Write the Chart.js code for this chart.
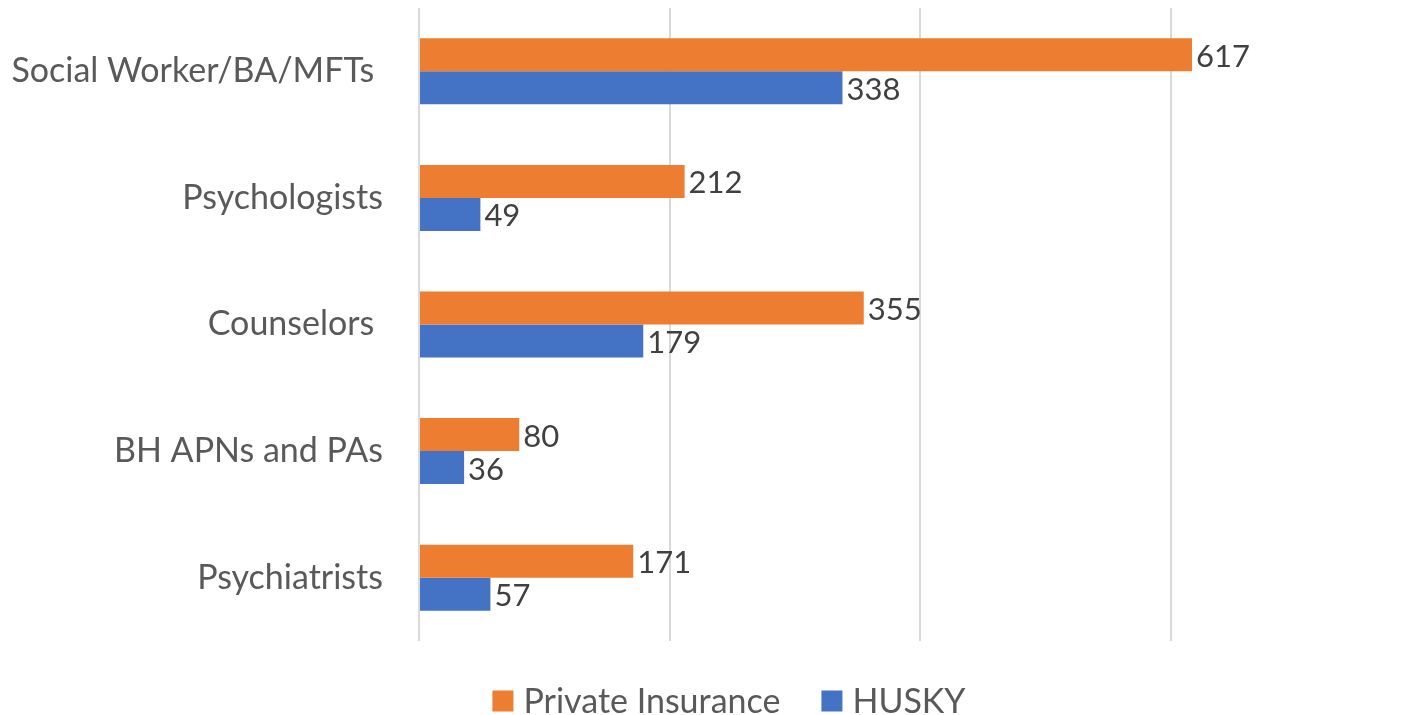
<!DOCTYPE html>
<html>
<head>
<meta charset="utf-8">
<script src="https://cdn.jsdelivr.net/npm/chart.js@4.4.1/dist/chart.umd.min.js"></script>
<style>
  html, body { margin: 0; padding: 0; background: #fff; overflow: hidden; }
  #wrap { width: 1410px; height: 715px; }
</style>
</head>
<body>
<div id="wrap"><canvas id="chart" width="1410" height="715"></canvas></div>
<script>
// Kategorier och värden
const categories = ['Social Worker/BA/MFTs ', 'Psychologists', 'Counselors ', 'BH APNs and PAs', 'Psychiatrists'];
const privateInsurance = [617, 212, 355, 80, 171];
const husky = [338, 49, 179, 36, 57];
const xTicks = [0, 200, 400, 600];

const FONT = 'Lato, "Open Sans", sans-serif';

// Värdeetiketter till höger om staplarna
const valueLabels = {
    id: 'valueLabels',
    afterDatasetsDraw(chart) {
        const ctx = chart.ctx;
        ctx.save();
        ctx.font = '31px ' + FONT;
        ctx.fillStyle = '#404040';
        ctx.textAlign = 'left';
        ctx.textBaseline = 'middle';
        chart.data.datasets.forEach((ds, i) => {
            chart.getDatasetMeta(i).data.forEach((bar, j) => {
                ctx.fillText(ds.data[j], bar.x + 4, bar.y + 2);
            });
        });
        ctx.restore();
    }
};

// Egen legend längst ner (Excel-stil)
const bottomLegend = {
    id: 'bottomLegend',
    afterDraw(chart) {
        const ctx = chart.ctx;
        const box = 21, textGap = 10, itemGap = 41, y = 701;
        ctx.save();
        ctx.font = '34px ' + FONT;
        ctx.textBaseline = 'middle';
        ctx.textAlign = 'left';
        const items = chart.data.datasets.map(ds => ({
            text: ds.label, color: ds.backgroundColor, w: ctx.measureText(ds.label).width
        }));
        let total = items.reduce((s, it) => s + box + textGap + it.w, 0) + itemGap * (items.length - 1);
        let x = 729 - total / 2;
        items.forEach(it => {
            ctx.fillStyle = it.color;
            ctx.fillRect(x, y - box / 2, box, box);
            ctx.fillStyle = '#595959';
            ctx.fillText(it.text, x + box + textGap, y + 1);
            x += box + textGap + it.w + itemGap;
        });
        ctx.restore();
    }
};

new Chart(document.getElementById('chart'), {
    type: 'bar',
    data: {
        labels: categories,
        datasets: [
            {
                label: 'Private Insurance',
                data: privateInsurance,
                backgroundColor: '#ED7D31',
                barPercentage: 1,
                categoryPercentage: 0.521
            },
            {
                label: 'HUSKY',
                data: husky,
                backgroundColor: '#4472C4',
                barPercentage: 1,
                categoryPercentage: 0.521
            }
        ]
    },
    options: {
        indexAxis: 'y',
        responsive: false,
        animation: false,
        layout: { padding: { left: 0, right: 5, top: 8, bottom: 74 } },
        scales: {
            x: {
                min: 0,
                max: 787,
                afterBuildTicks: (scale) => {
                    scale.ticks = xTicks.map(v => ({ value: v }));
                },
                afterFit: (scale) => { scale.height = 0; },
                ticks: { display: false },
                grid: { color: '#d9d9d9', lineWidth: 2, drawTicks: false },
                border: { display: false }
            },
            y: {
                afterFit: (scale) => {
                    scale.width = 419;
                    scale.paddingTop = 0;
                    scale.paddingBottom = 0;
                },
                grid: { display: false, drawTicks: false },
                border: { display: false },
                ticks: {
                    color: '#595959',
                    padding: 36,
                    font: { family: FONT, size: 34 }
                }
            }
        },
        plugins: {
            legend: { display: false },
            tooltip: { enabled: false }
        }
    },
    plugins: [valueLabels, bottomLegend]
});
</script>
</body>
</html>
